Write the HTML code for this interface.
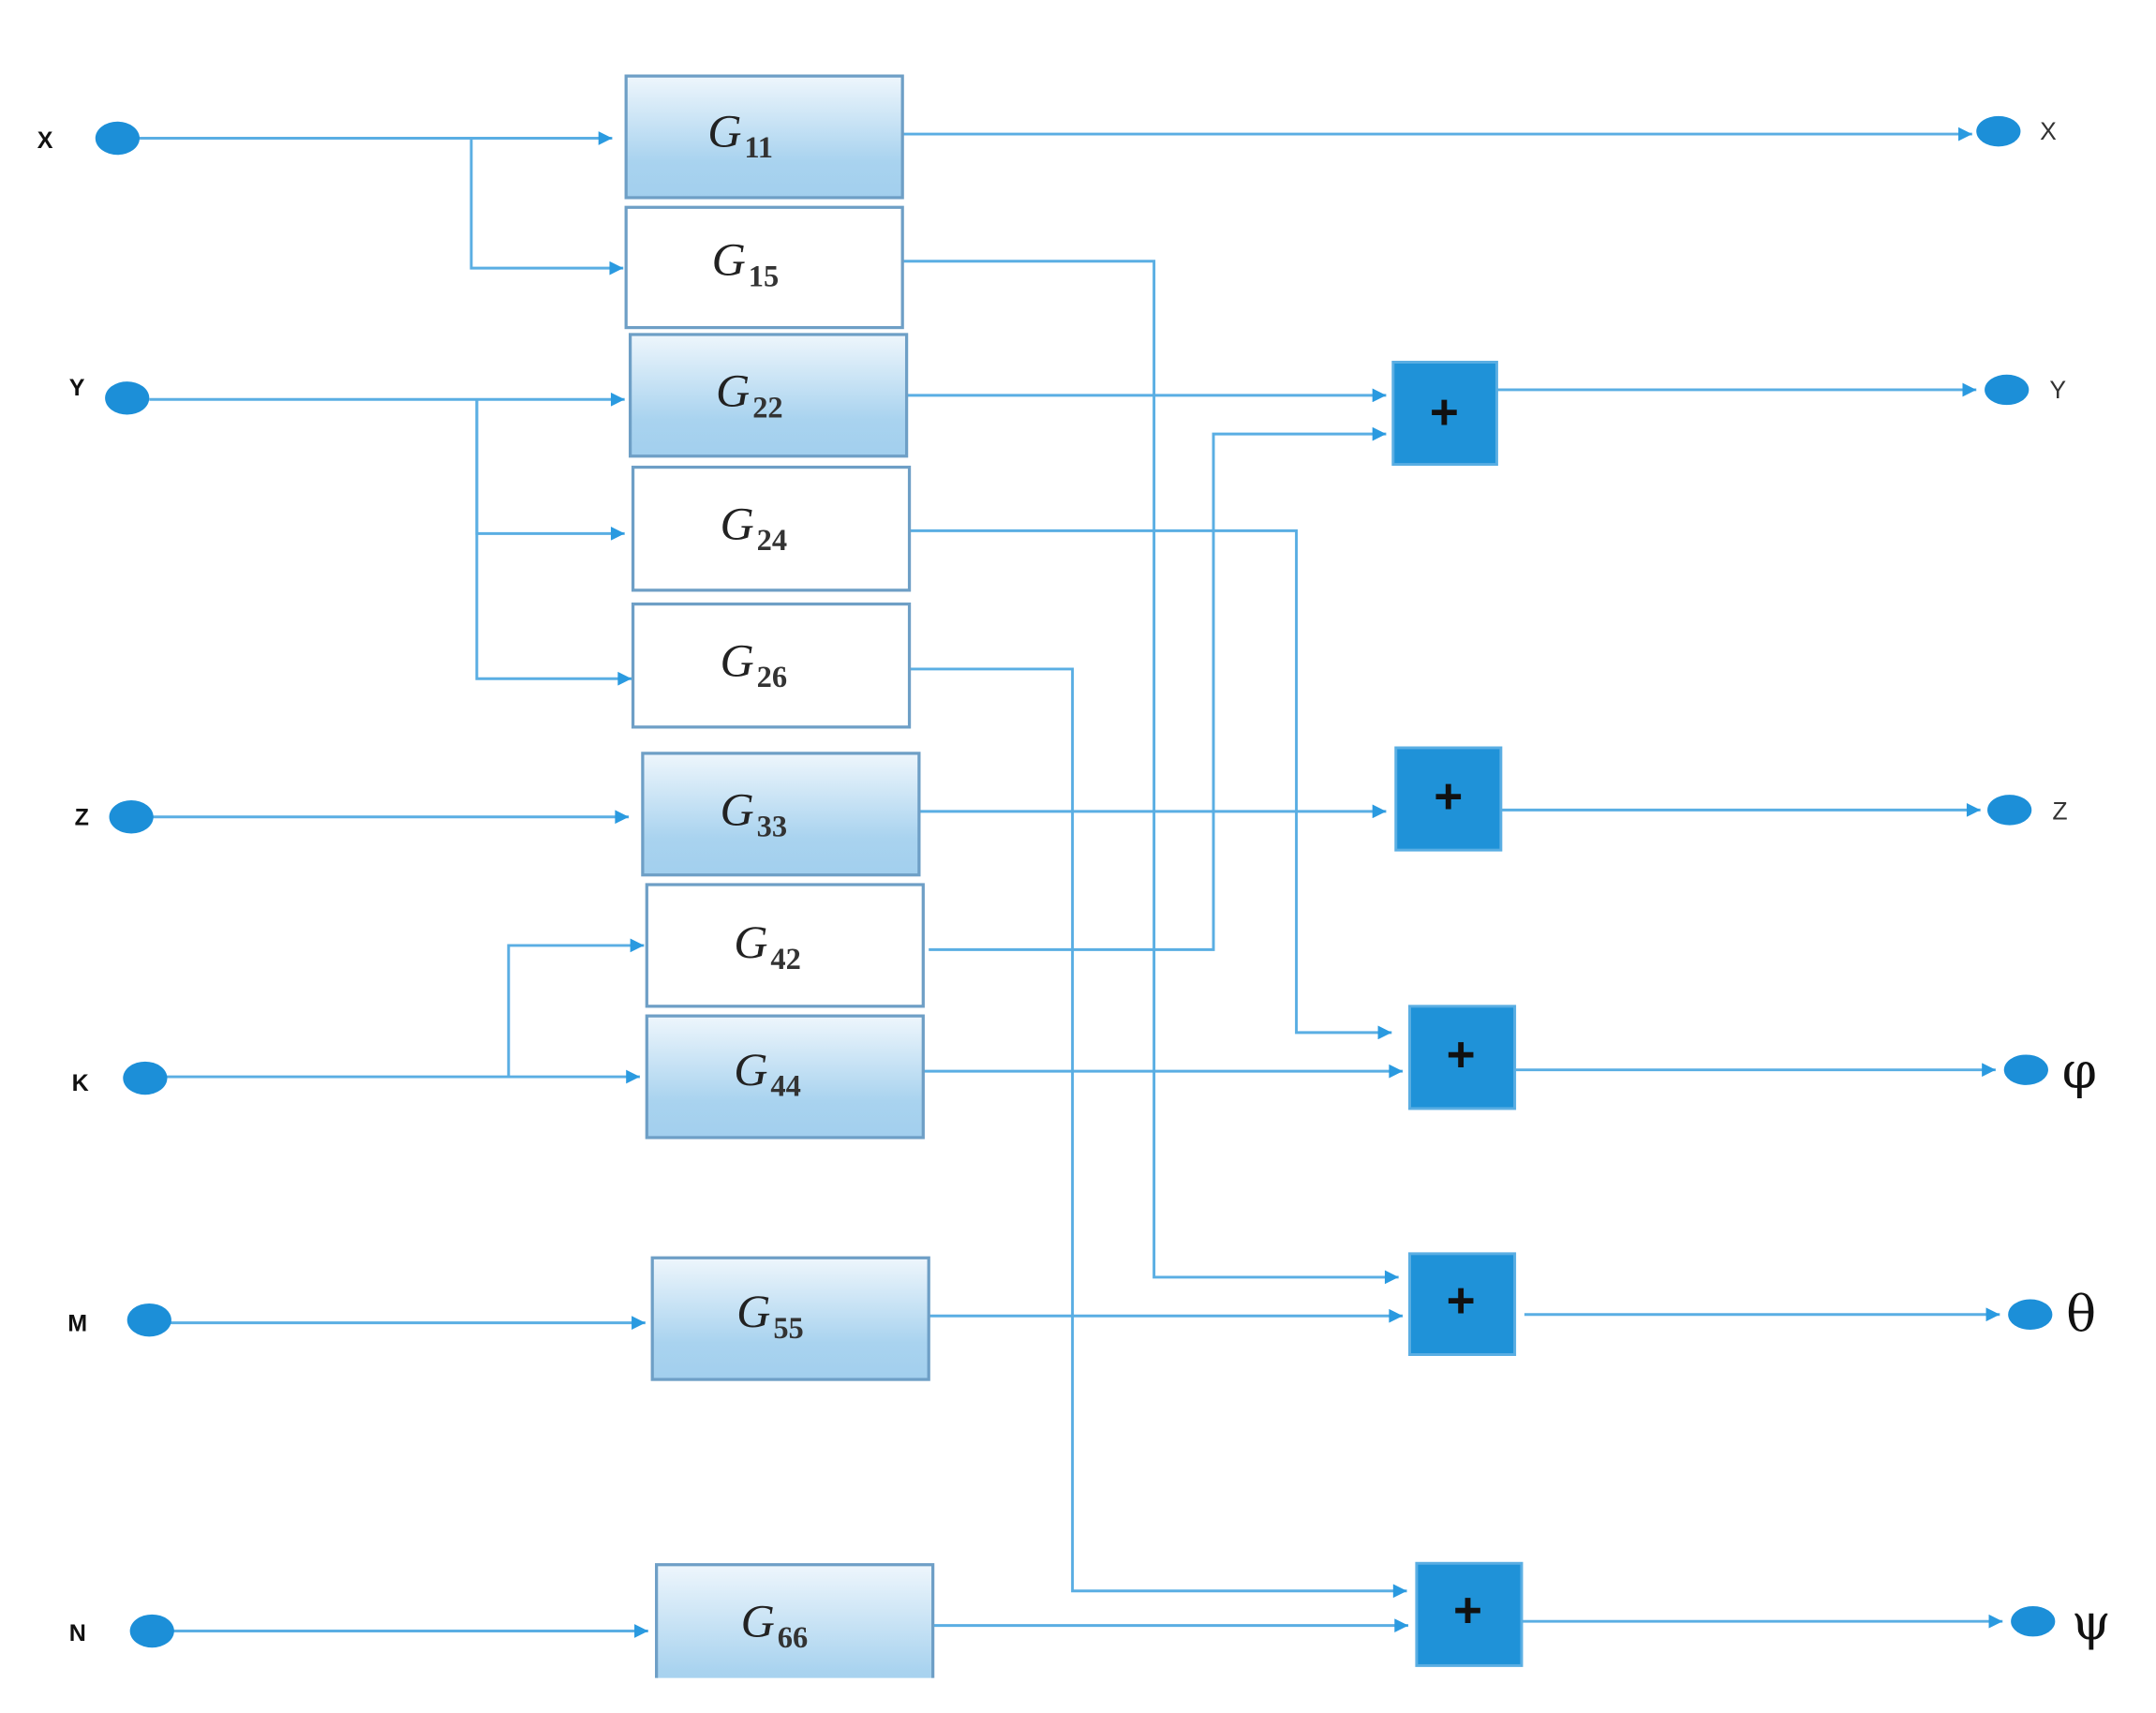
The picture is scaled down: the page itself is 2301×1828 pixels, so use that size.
<!DOCTYPE html>
<html><head><meta charset="utf-8">
<style>
html,body{margin:0;padding:0;background:#fff;}
svg{display:block;}
.l{stroke:#5aaee3;stroke-width:2;fill:none;}
.bx{stroke:#6e9fc6;stroke-width:2.2;}
.g{font-family:"Liberation Serif",serif;font-style:italic;font-size:34px;fill:#222;}
.s{font-family:"Liberation Serif",serif;font-style:normal;font-size:22px;fill:#333;font-weight:bold;}
.in{font-family:"Liberation Sans",sans-serif;font-weight:bold;font-size:17px;fill:#111;}
.out{font-family:"Liberation Sans",sans-serif;font-size:18px;fill:#333;}
.gr{font-family:"DejaVu Serif","Liberation Serif",serif;font-size:36px;fill:#111;}
.plus{font-family:"Liberation Sans",sans-serif;font-weight:bold;font-size:36px;fill:#111;}
</style></head><body>
<svg width="2301" height="1828" viewBox="0 0 1560 1239.3" preserveAspectRatio="none" xmlns="http://www.w3.org/2000/svg">
<defs>
<linearGradient id="gd" x1="0" y1="0" x2="0" y2="1">
<stop offset="0" stop-color="#eef6fc"/><stop offset="0.7" stop-color="#a9d3ef"/><stop offset="1" stop-color="#a2cfee"/>
</linearGradient>
<marker id="a" viewBox="0 0 10 10" refX="10" refY="5" markerWidth="14" markerHeight="10" markerUnits="userSpaceOnUse" orient="auto">
<path d="M0,0 L10,5 L0,10 z" fill="#2a9ae0"/></marker>
<clipPath id="cp"><rect x="0" y="0" width="1560" height="1214"/></clipPath>
</defs>

<path class="l" d="M100,100 H443" marker-end="url(#a)"/>
<path class="l" d="M341,100 V194 H451" marker-end="url(#a)"/>
<path class="l" d="M108,289 H452" marker-end="url(#a)"/>
<path class="l" d="M345,289 V386 H452" marker-end="url(#a)"/>
<path class="l" d="M345,289 V491 H457" marker-end="url(#a)"/>
<path class="l" d="M110,591 H455" marker-end="url(#a)"/>
<path class="l" d="M120,779 H463" marker-end="url(#a)"/>
<path class="l" d="M368,779 V684 H466" marker-end="url(#a)"/>
<path class="l" d="M122,957 H467" marker-end="url(#a)"/>
<path class="l" d="M125,1180 H469" marker-end="url(#a)"/>

<path class="l" d="M653,97 H1427" marker-end="url(#a)"/>
<path class="l" d="M653,189 H835 V924 H1012" marker-end="url(#a)"/>
<path class="l" d="M656,286 H1003" marker-end="url(#a)"/>
<path class="l" d="M658,384 H938 V747 H1007" marker-end="url(#a)"/>
<path class="l" d="M658,484 H776 V1151 H1018" marker-end="url(#a)"/>
<path class="l" d="M665,587 H1003" marker-end="url(#a)"/>
<path class="l" d="M672,687 H878 V314 H1003" marker-end="url(#a)"/>
<path class="l" d="M668,775 H1015" marker-end="url(#a)"/>
<path class="l" d="M672,952 H1015" marker-end="url(#a)"/>
<path class="l" d="M675,1176 H1019" marker-end="url(#a)"/>

<path class="l" d="M1083,282 H1430" marker-end="url(#a)"/>
<path class="l" d="M1086,586 H1433" marker-end="url(#a)"/>
<path class="l" d="M1096,774 H1444" marker-end="url(#a)"/>
<path class="l" d="M1103,951 H1447" marker-end="url(#a)"/>
<path class="l" d="M1101,1173 H1449" marker-end="url(#a)"/>

<g>
<rect class="bx" x="453" y="55" width="200" height="88" fill="url(#gd)"/>
<rect class="bx" x="453" y="150" width="200" height="87" fill="#fff"/>
<rect class="bx" x="456" y="242" width="200" height="88" fill="url(#gd)"/>
<rect class="bx" x="458" y="338" width="200" height="89" fill="#fff"/>
<rect class="bx" x="458" y="437" width="200" height="89" fill="#fff"/>
<rect class="bx" x="465" y="545" width="200" height="88" fill="url(#gd)"/>
<rect class="bx" x="468" y="640" width="200" height="88" fill="#fff"/>
<rect class="bx" x="468" y="735" width="200" height="88" fill="url(#gd)"/>
<rect class="bx" x="472" y="910" width="200" height="88" fill="url(#gd)"/>
<rect class="bx" x="475" y="1132" width="200" height="110" fill="url(#gd)" clip-path="url(#cp)"/>
</g>
<g>
<text class="g" x="512" y="106">G<tspan class="s" dx="2" dy="8">11</tspan></text>
<text class="g" x="515" y="199">G<tspan class="s" dx="2" dy="8">15</tspan></text>
<text class="g" x="518" y="294">G<tspan class="s" dx="2" dy="8">22</tspan></text>
<text class="g" x="521" y="390">G<tspan class="s" dx="2" dy="8">24</tspan></text>
<text class="g" x="521" y="489">G<tspan class="s" dx="2" dy="8">26</tspan></text>
<text class="g" x="521" y="597">G<tspan class="s" dx="2" dy="8">33</tspan></text>
<text class="g" x="531" y="693">G<tspan class="s" dx="2" dy="8">42</tspan></text>
<text class="g" x="531" y="785">G<tspan class="s" dx="2" dy="8">44</tspan></text>
<text class="g" x="533" y="960">G<tspan class="s" dx="2" dy="8">55</tspan></text>
<text class="g" x="536" y="1184">G<tspan class="s" dx="2" dy="8">66</tspan></text>
</g>

<g fill="#1f92d8" stroke="#5aaee3" stroke-width="2">
<rect x="1008" y="262" width="75" height="74"/>
<rect x="1010" y="541" width="76" height="74"/>
<rect x="1020" y="728" width="76" height="74"/>
<rect x="1020" y="907" width="76" height="73"/>
<rect x="1025" y="1131" width="76" height="74"/>
</g>
<g class="plus" text-anchor="middle">
<text x="1045" y="310">+</text>
<text x="1048" y="588">+</text>
<text x="1057" y="775">+</text>
<text x="1057" y="953">+</text>
<text x="1062" y="1177">+</text>
</g>

<g fill="#1c8fd8">
<ellipse cx="85" cy="100" rx="16" ry="12"/>
<ellipse cx="92" cy="288" rx="16" ry="12"/>
<ellipse cx="95" cy="591" rx="16" ry="12"/>
<ellipse cx="105" cy="780" rx="16" ry="12"/>
<ellipse cx="108" cy="955" rx="16" ry="12"/>
<ellipse cx="110" cy="1180" rx="16" ry="12"/>
<ellipse cx="1446" cy="95" rx="16" ry="11"/>
<ellipse cx="1452" cy="282" rx="16" ry="11"/>
<ellipse cx="1454" cy="586" rx="16" ry="11"/>
<ellipse cx="1466" cy="774" rx="16" ry="11"/>
<ellipse cx="1469" cy="951" rx="16" ry="11"/>
<ellipse cx="1471" cy="1173" rx="16" ry="11"/>
</g>

<g class="in">
<text x="27" y="107">X</text>
<text x="50" y="286">Y</text>
<text x="54" y="597">Z</text>
<text x="52" y="789">K</text>
<text x="49" y="963">M</text>
<text x="50" y="1187">N</text>
</g>
<g class="out">
<text x="1476" y="101">X</text>
<text x="1483" y="288">Y</text>
<text x="1485" y="593">Z</text>
</g>
<g class="gr">
<text x="1492" y="787">φ</text>
<text x="1495" y="963">θ</text>
<text x="1499" y="1186">ψ</text>
</g>
</svg>
</body></html>
